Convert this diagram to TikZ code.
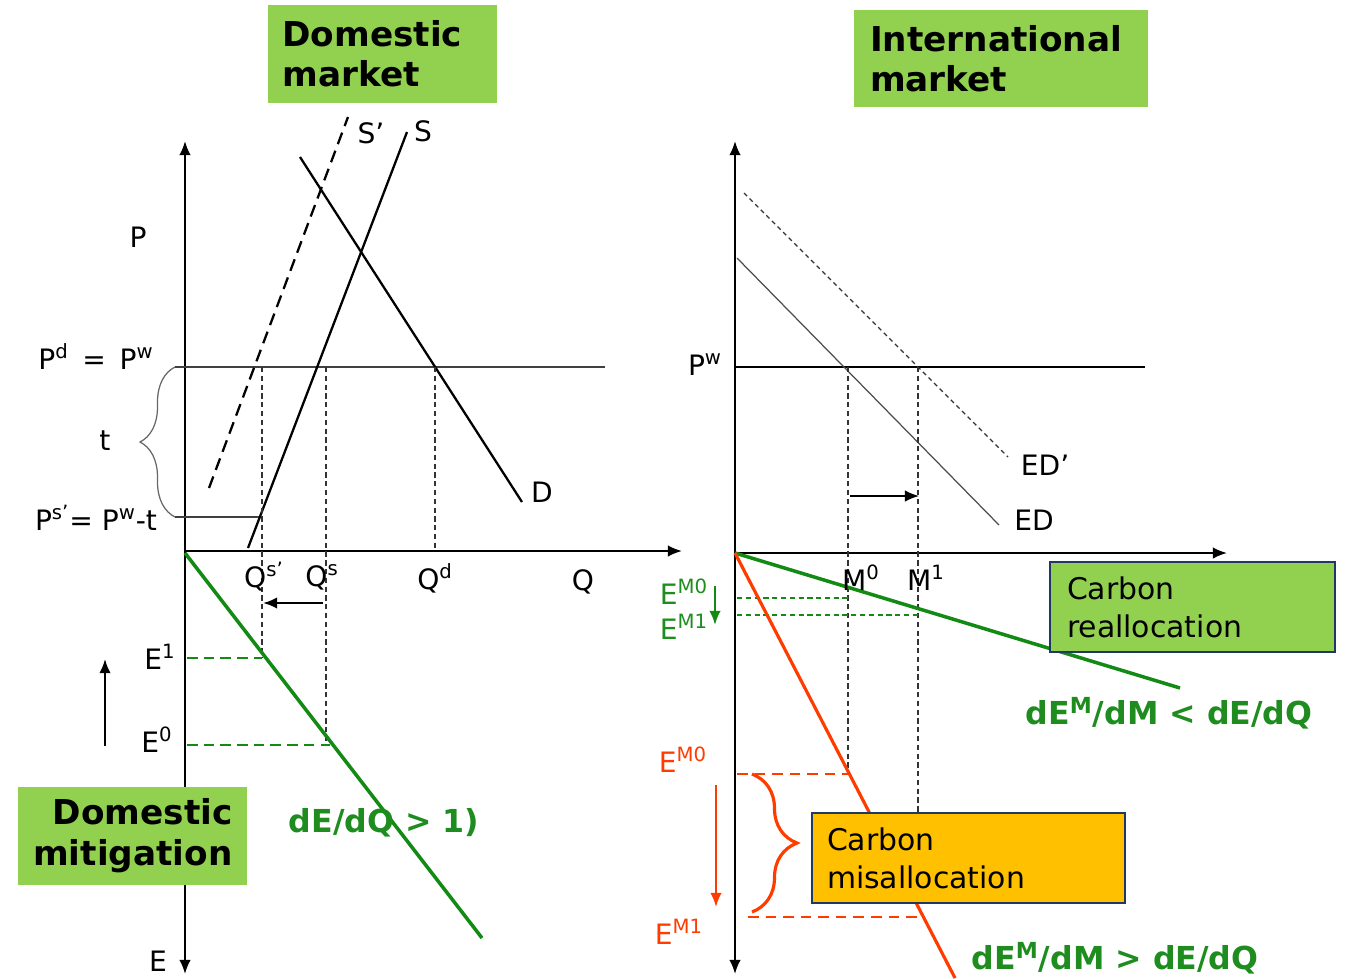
\documentclass[tikz,border=0pt]{standalone}
\usepackage{fontspec}
\setmainfont{DejaVu Sans}
\usepackage{tikz}
\usetikzlibrary{arrows.meta, calc, decorations.pathreplacing}

\definecolor{boxgreen}{HTML}{92D050}
\definecolor{mitgreen}{HTML}{138A13}
\definecolor{txtgreen}{HTML}{1E8C1E}
\definecolor{leakred}{HTML}{FF3C00}
\definecolor{boxorange}{HTML}{FFC000}
\definecolor{boxnavy}{HTML}{1F3864}

\newcommand{\lblsize}{\fontsize{16}{18}\selectfont}
\newcommand{\sps}[1]{\textsuperscript{#1}}

\begin{document}
\begin{tikzpicture}[x=0.02cm, y=-0.02cm,
    >={Latex[length=8pt, width=6.5pt]},
    axisline/.style={line width=1.1pt},
    curve/.style={line width=1.3pt},
    guide/.style={line width=0.6pt, black!80, dash pattern=on 3pt off 2pt},
    lbl/.style={font=\lblsize, inner sep=1pt},
    titlebox/.style={fill=boxgreen, font=\fontsize{19.5}{23}\selectfont\bfseries, minimum height=1.96cm, inner xsep=0.29cm},
    notebox/.style={draw=boxnavy, line width=1.2pt, font=\fontsize{17}{21.5}\selectfont, minimum height=1.8cm, align=left},
    formula/.style={text=txtgreen, font=\fontsize{18}{20}\selectfont\bfseries}]
    \useasboundingbox (0,0) rectangle (1345,978);

    % domestic market
    \coordinate (O1) at (185,551);
    \draw[axisline, <->] (185,974) -- (185,141);
    \draw[axisline, ->] (O1) -- (682,551);
    \draw[line width=0.8pt, black!75] (175,367) -- (605,367);
    \draw[line width=0.8pt, black!75] (175,517) -- (259,517);
    \draw[decorate, decoration={brace, amplitude=0.7cm}, line width=0.7pt, black!60] (175,517) -- (175,367);

    \draw[curve] (248,548) -- (407,132);
    \draw[curve, dash pattern=on 7pt off 4pt] (209,488) -- (348,117);
    \draw[curve] (300,157) -- (522,502);

    \draw[guide] (262,367) -- (262,658);
    \draw[guide] (326,367) -- (326,745);
    \draw[guide] (435,367) -- (435,551);
    \draw[line width=1.3pt, ->] (323,603) -- (263,603);

    \draw[mitgreen, line width=2pt] (185,553) -- (482,938);
    \draw[mitgreen, line width=1.3pt, dash pattern=on 6pt off 3.5pt] (187,658) -- (262,658);
    \draw[mitgreen, line width=1.3pt, dash pattern=on 6pt off 3.5pt] (187,745) -- (330,745);
    \draw[line width=1.3pt, ->] (105,746) -- (105,659);

    \node[lbl] (P) at (138,237) {P};
    \node[lbl] (Pd) at (96,357) {P\sps{d} \,=\, P\sps{w}};
    \node[lbl] (t) at (105,441) {t};
    \node[lbl] (Ps) at (96,518) {P\sps{s’}= P\sps{w}-t};
    \node[lbl] (Sp) at (371,133) {S’};
    \node[lbl] (S) at (423,131) {S};
    \node[lbl] (D) at (542,492) {D};
    \node[lbl] (Qsp) at (264,577) {Q\sps{s’}};
    \node[lbl] (Qs) at (322,577) {Q\sps{s}};
    \node[lbl] (Qd) at (435,578) {Q\sps{d}};
    \node[lbl] (Q) at (583,582) {Q};
    \node[lbl] (E1) at (160,657) {E\sps{1}};
    \node[lbl] (E0) at (157,740) {E\sps{0}};
    \node[lbl] (E) at (158,961) {E};
    \node[formula] (dEdQ) at (384,823) {dE/dQ > 1)};

    % international market
    \coordinate (O2) at (735,553);
    \draw[axisline, <->] (735,974) -- (735,141);
    \draw[axisline, ->] (O2) -- (1227,553);
    \draw[line width=1.2pt] (735,367) -- (1145,367);
    \draw[line width=0.7pt, black!70] (737,258) -- (999,525);
    \draw[line width=0.7pt, black!80, dash pattern=on 2.5pt off 2pt] (744,193) -- (1008,457);

    \draw[guide] (848,367) -- (848,774);
    \draw[guide] (918,367) -- (918,813);
    \draw[line width=0.9pt, ->] (850,496) -- (919,496);

    \draw[mitgreen, line width=0.6pt, dash pattern=on 3pt off 2pt] (737,598) -- (848,598);
    \draw[mitgreen, line width=0.6pt, dash pattern=on 3pt off 2pt] (737,615) -- (918,615);
    \draw[mitgreen, line width=2pt] (O2) -- (1180,688);
    \draw[mitgreen, line width=1.3pt, ->] (715,586) -- (715,625);

    \draw[leakred, line width=1.3pt, dash pattern=on 6pt off 4pt] (737,774) -- (848,774);
    \draw[leakred, line width=1.3pt, dash pattern=on 6pt off 4pt] (748,917) -- (922,917);
    \draw[leakred, line width=1.8pt] (O2) -- (955,978);
    \draw[leakred, line width=1.3pt, ->] (716,785) -- (716,907);
    \draw[leakred, line width=1.8pt, decorate, decoration={brace, amplitude=0.9cm}] (752,774) -- (752,912);

    \node[lbl] (Pw) at (705,365) {P\sps{w}};
    \node[lbl] (EDp) at (1045,465) {ED’};
    \node[lbl] (ED) at (1034,520) {ED};
    \node[lbl] (M0) at (861,578) {M\sps{0}};
    \node[lbl] (M1) at (926,578) {M\sps{1}};
    \node[lbl, text=txtgreen] (gEM0) at (684,592) {E\sps{M0}};
    \node[lbl, text=txtgreen] (gEM1) at (684,627) {E\sps{M1}};
    \node[lbl, text=leakred] (rEM0) at (683,760) {E\sps{M0}};
    \node[lbl, text=leakred] (rEM1) at (679,932) {E\sps{M1}};
    \node[formula] (less) at (1169,713) {dE\sps{M}/dM < dE/dQ};
    \node[formula] (more) at (1115,958) {dE\sps{M}/dM > dE/dQ};

    % boxes
    \node[titlebox, text width=4.0cm, align=left] (dommkt) at (382.5,54) {Domestic\\market};
    \node[titlebox, text width=5.24cm, inner xsep=0.32cm, align=left] (intmkt) at (1001,58.5) {International\\market};
    \node[titlebox, text width=4.0cm, align=right] (dommit) at (132.5,835.5) {Domestic\\mitigation};
    \node[notebox, fill=boxgreen, text width=5.02cm, inner xsep=0.34cm] (realloc) at (1192.5,607) {Carbon\\reallocation};
    \node[notebox, fill=boxorange, text width=5.66cm, inner xsep=0.3cm] (misalloc) at (968.5,858) {Carbon\\misallocation};
\end{tikzpicture}
\end{document}
